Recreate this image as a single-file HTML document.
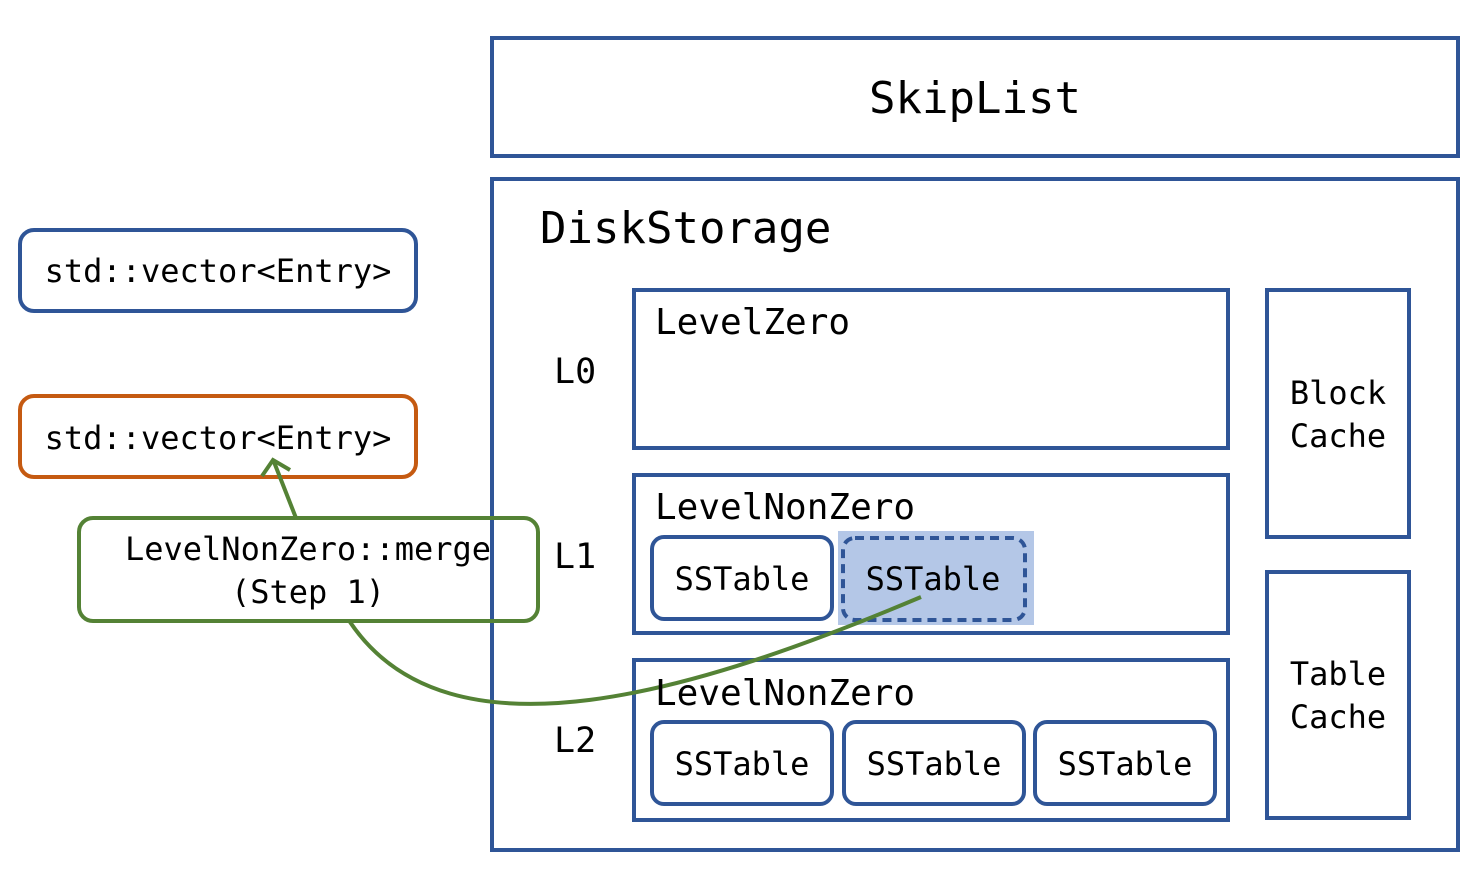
<!DOCTYPE html>
<html><head><meta charset="utf-8"><style>
html,body{margin:0;padding:0;background:#fff;}
svg{display:block;}
text{font-family:"DejaVu Sans Mono","Liberation Mono",monospace;fill:#000;}
</style></head><body>
<svg width="1475" height="880" viewBox="0 0 1475 880" xmlns="http://www.w3.org/2000/svg">
<g fill="none" stroke="#2f5597" stroke-width="4">
<rect x="492" y="38" width="966" height="118"/>
<rect x="492" y="179" width="966" height="671"/>
<rect x="634" y="290" width="594" height="158"/>
<rect x="634" y="475" width="594" height="158"/>
<rect x="634" y="660" width="594" height="160"/>
<rect x="1267" y="290" width="142" height="247"/>
<rect x="1267" y="572" width="142" height="246"/>
</g>
<rect x="838" y="531" width="196" height="94" fill="#b4c7e7"/>
<g fill="none" stroke="#2f5597" stroke-width="4">
<rect x="652" y="537" width="180" height="82" rx="12"/>
<rect x="843" y="538" width="182" height="82" rx="12" stroke-dasharray="9,6"/>
<rect x="652" y="722" width="180" height="82" rx="12"/>
<rect x="844" y="722" width="180" height="82" rx="12"/>
<rect x="1035" y="722" width="180" height="82" rx="12"/>
<rect x="20" y="230" width="396" height="81" rx="14"/>
</g>
<rect x="20" y="396" width="396" height="81" rx="14" fill="none" stroke="#c55a11" stroke-width="4"/>
<rect x="79" y="518" width="459" height="103" rx="14" fill="none" stroke="#548235" stroke-width="4"/>
<g fill="none" stroke="#548235" stroke-width="4">
<path d="M921 597 C 700 690, 450 770, 350 622"/>
<path d="M296 518 L274 462"/>
<path d="M262 476 L273 460 L290 470"/>
</g>
<text x="975" y="113" font-size="44" text-anchor="middle">SkipList</text>
<text x="540" y="243" font-size="44">DiskStorage</text>
<text x="655" y="334" font-size="36">LevelZero</text>
<text x="655" y="519" font-size="36">LevelNonZero</text>
<text x="655" y="705" font-size="36">LevelNonZero</text>
<text x="554" y="383" font-size="35">L0</text>
<text x="554" y="568" font-size="35">L1</text>
<text x="554" y="752" font-size="35">L2</text>
<g font-size="32" text-anchor="middle">
<text x="742" y="590">SSTable</text>
<text x="933" y="590">SSTable</text>
<text x="742" y="775">SSTable</text>
<text x="934" y="775">SSTable</text>
<text x="1125" y="775">SSTable</text>
<text x="1338" y="404">Block</text>
<text x="1338" y="447">Cache</text>
<text x="1338" y="685">Table</text>
<text x="1338" y="728">Cache</text>
<text x="218" y="282">std::vector&lt;Entry&gt;</text>
<text x="218" y="449">std::vector&lt;Entry&gt;</text>
<text x="308" y="560">LevelNonZero::merge</text>
<text x="308" y="603">(Step 1)</text>
</g>
</svg>
</body></html>
